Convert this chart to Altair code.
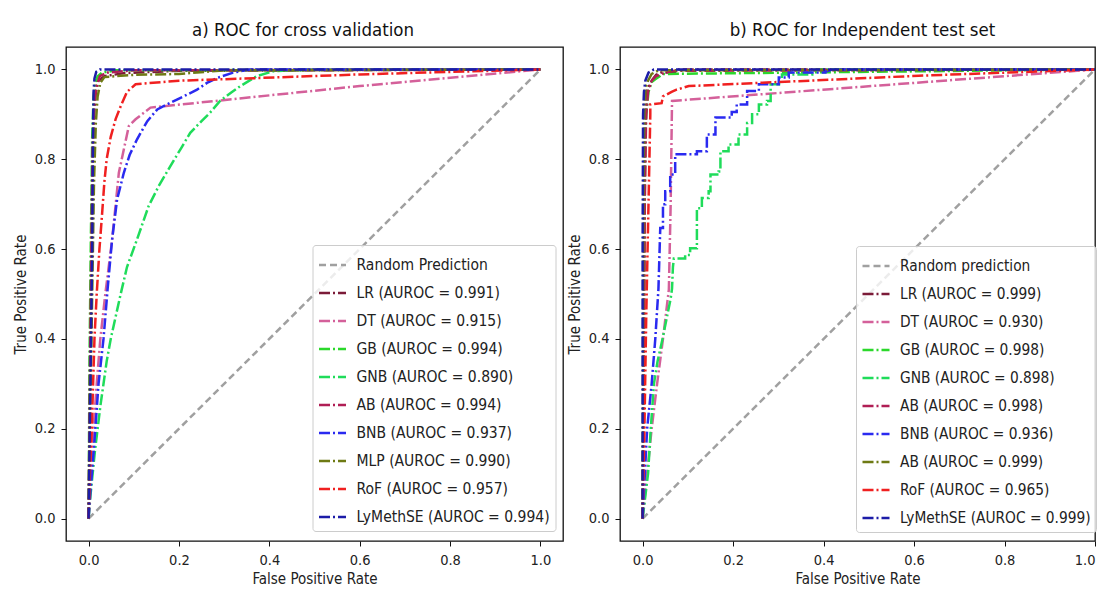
import altair as alt
import pandas as pd

TICKS = [0.0, 0.2, 0.4, 0.6, 0.8, 1.0]

# ---------------- a) cross validation ----------------
CV_LABELS = [
    "Random Prediction",
    "LR (AUROC = 0.991)",
    "DT (AUROC = 0.915)",
    "GB (AUROC = 0.994)",
    "GNB (AUROC = 0.890)",
    "AB (AUROC = 0.994)",
    "BNB (AUROC = 0.937)",
    "MLP (AUROC = 0.990)",
    "RoF (AUROC = 0.957)",
    "LyMethSE (AUROC = 0.994)",
]

cv_random_fpr = [0.0, 1.0]
cv_random_tpr = [0.0, 1.0]
cv_lr_fpr = [0, 0.003, 0.006, 0.009, 0.012, 0.016, 0.022, 0.035, 0.08, 0.2, 1.0]
cv_lr_tpr = [0, 0.3, 0.55, 0.78, 0.9, 0.95, 0.975, 0.985, 0.992, 0.997, 1.0]
cv_dt_fpr = [0, 0.005, 0.011, 0.018, 0.026, 0.037, 0.052, 0.067, 0.089, 0.104, 0.137, 0.6, 1.0]
cv_dt_tpr = [0, 0.1, 0.2, 0.3, 0.4, 0.5, 0.62, 0.77, 0.874, 0.889, 0.915, 0.963, 1.0]
cv_gb_fpr = [0, 0.002, 0.005, 0.008, 0.011, 0.015, 0.02, 0.03, 0.06, 1.0]
cv_gb_tpr = [0, 0.35, 0.62, 0.85, 0.94, 0.97, 0.985, 0.993, 0.998, 1.0]
cv_gnb_fpr = [0, 0.004, 0.009, 0.014, 0.02, 0.026, 0.033, 0.04, 0.049, 0.06, 0.071, 0.085,
              0.107, 0.133, 0.155, 0.181, 0.205, 0.225, 0.25, 0.269, 0.291, 0.315, 0.336,
              0.372, 0.409, 0.5, 1.0]
cv_gnb_tpr = [0, 0.05, 0.1, 0.15, 0.2, 0.25, 0.3, 0.35, 0.4, 0.45, 0.5, 0.56,
              0.621, 0.696, 0.74, 0.785, 0.825, 0.859, 0.885, 0.904, 0.93, 0.948, 0.963,
              0.985, 0.996, 1.0, 1.0]
cv_ab_fpr = [0, 0.003, 0.006, 0.009, 0.013, 0.018, 0.025, 0.04, 0.1, 1.0]
cv_ab_tpr = [0, 0.32, 0.6, 0.83, 0.93, 0.965, 0.985, 0.993, 0.998, 1.0]
cv_bnb_fpr = [0, 0.004, 0.009, 0.015, 0.022, 0.033, 0.042, 0.052, 0.063, 0.078, 0.091, 0.107,
              0.13, 0.152, 0.181, 0.21, 0.24, 0.262, 0.284, 0.32, 0.357, 1.0]
cv_bnb_tpr = [0, 0.06, 0.12, 0.2, 0.3, 0.4, 0.51, 0.621, 0.71, 0.77, 0.81, 0.844,
              0.885, 0.911, 0.926, 0.94, 0.955, 0.97, 0.981, 0.993, 1.0, 1.0]
cv_mlp_fpr = [0, 0.004, 0.008, 0.012, 0.016, 0.02, 0.026, 0.035, 0.1, 0.2, 0.3, 1.0]
cv_mlp_tpr = [0, 0.25, 0.5, 0.75, 0.88, 0.94, 0.97, 0.983, 0.988, 0.99, 0.998, 1.0]
cv_rof_fpr = [0, 0.003, 0.007, 0.01, 0.013, 0.018, 0.024, 0.03, 0.035, 0.04, 0.049, 0.06,
              0.071, 0.085, 0.104, 0.2, 0.38, 0.6, 1.0]
cv_rof_tpr = [0, 0.1, 0.2, 0.3, 0.4, 0.5, 0.6, 0.68, 0.75, 0.8, 0.85, 0.89,
              0.918, 0.95, 0.967, 0.975, 0.981, 0.989, 1.0]
cv_lym_fpr = [0, 0.002, 0.004, 0.006, 0.008, 0.009, 0.01, 0.011, 0.013, 0.017, 0.025, 1.0]
cv_lym_tpr = [0, 0.15, 0.3, 0.45, 0.6, 0.75, 0.88, 0.95, 0.98, 0.995, 1.0, 1.0]

# ---------------- b) independent test set ----------------
TEST_LABELS = [
    "Random prediction",
    "LR (AUROC = 0.999)",
    "DT (AUROC = 0.930)",
    "GB (AUROC = 0.998)",
    "GNB (AUROC = 0.898)",
    "AB (AUROC = 0.998)",
    "BNB (AUROC = 0.936)",
    "AB (AUROC = 0.999)",
    "RoF (AUROC = 0.965)",
    "LyMethSE (AUROC = 0.999)",
]

te_random_fpr = [0.0, 1.0]
te_random_tpr = [0.0, 1.0]
te_lr_fpr = [0, 0.002, 0.004, 0.006, 0.009, 0.015, 0.022, 0.03, 0.04, 0.075, 0.08, 1.0]
te_lr_tpr = [0, 0.3, 0.6, 0.85, 0.95, 0.965, 0.978, 0.988, 0.993, 0.993, 1.0, 1.0]
te_dt_fpr = [0, 0.01, 0.02, 0.032, 0.045, 0.058, 0.062, 0.065, 1.0]
te_dt_tpr = [0, 0.1, 0.2, 0.3, 0.4, 0.51, 0.7, 0.93, 1.0]
te_gb_fpr = [0, 0.002, 0.004, 0.006, 0.008, 0.013, 0.02, 0.028, 0.045, 1.0]
te_gb_tpr = [0, 0.35, 0.65, 0.87, 0.9, 0.95, 0.972, 0.978, 0.99, 1.0]
te_gnb_fpr = [0, 0.006, 0.012, 0.018, 0.025, 0.033, 0.044, 0.053, 0.062, 0.065, 0.067, 0.069,
              0.094, 0.094, 0.105, 0.105, 0.12, 0.12, 0.131, 0.131, 0.146, 0.146, 0.15, 0.15,
              0.168, 0.168, 0.172, 0.172, 0.19, 0.19, 0.212, 0.212, 0.231, 0.231, 0.242, 0.242,
              0.257, 0.257, 0.275, 0.275, 0.283, 0.283, 0.308, 0.308, 0.375, 0.375, 0.4, 1.0]
te_gnb_tpr = [0, 0.05, 0.1, 0.2, 0.3, 0.35, 0.4, 0.445, 0.49, 0.512, 0.56, 0.579,
              0.579, 0.587, 0.587, 0.602, 0.602, 0.691, 0.691, 0.714, 0.714, 0.729, 0.729, 0.766,
              0.766, 0.773, 0.773, 0.818, 0.818, 0.833, 0.833, 0.855, 0.855, 0.881, 0.881, 0.9,
              0.9, 0.922, 0.922, 0.93, 0.93, 0.967, 0.967, 0.989, 0.989, 0.998, 1.0, 1.0]
te_ab_fpr = [0, 0.003, 0.005, 0.008, 0.012, 0.02, 0.03, 0.05, 0.07, 1.0]
te_ab_tpr = [0, 0.4, 0.75, 0.9, 0.95, 0.975, 0.985, 0.993, 0.997, 1.0]
te_bnb_fpr = [0, 0.005, 0.01, 0.02, 0.028, 0.035, 0.037, 0.039, 0.045, 0.045, 0.05, 0.05,
              0.061, 0.061, 0.072, 0.072, 0.12, 0.12, 0.142, 0.142, 0.161, 0.161, 0.197, 0.197,
              0.208, 0.208, 0.231, 0.231, 0.257, 0.257, 0.301, 0.301, 0.323, 0.323, 0.404, 0.404,
              0.42, 1.0]
te_bnb_tpr = [0, 0.1, 0.2, 0.3, 0.4, 0.512, 0.58, 0.647, 0.647, 0.7, 0.7, 0.729,
              0.729, 0.766, 0.766, 0.811, 0.811, 0.818, 0.818, 0.855, 0.855, 0.893, 0.893, 0.905,
              0.905, 0.922, 0.922, 0.952, 0.952, 0.967, 0.967, 0.982, 0.982, 0.993, 0.993, 0.995,
              1.0, 1.0]
te_ab2_fpr = [0, 0.001, 0.002, 0.004, 0.007, 0.012, 0.02, 0.035, 1.0]
te_ab2_tpr = [0, 0.4, 0.75, 0.92, 0.96, 0.975, 0.99, 0.998, 1.0]
te_rof_fpr = [0, 0.004, 0.008, 0.012, 0.015, 0.017, 0.017, 0.042, 0.045, 0.064, 0.075, 0.102,
              0.3, 0.61, 1.0]
te_rof_tpr = [0, 0.2, 0.45, 0.65, 0.8, 0.9, 0.922, 0.925, 0.94, 0.95, 0.955, 0.963,
              0.972, 0.986, 1.0]
te_lym_fpr = [0, 0.0, 0.001, 0.003, 0.006, 0.013, 0.025, 1.0]
te_lym_tpr = [0, 0.6, 0.9, 0.95, 0.975, 0.993, 1.0, 1.0]

COLORS = ["#a0a0a0", "#7b1b38", "#d4609a", "#2bd82b", "#1fdc5a",
          "#b01e55", "#2a2af0", "#6e7a14", "#f02020", "#1c1ca8"]
DASHES = [[7, 4]] + [[11, 3, 2, 3]] * 9

FONT = "DejaVu Sans Condensed, Liberation Sans Narrow, DejaVu Sans, sans-serif"


def build(labels, series):
    rows = []
    for label, (fpr, tpr) in zip(labels, series):
        for i, (a, b) in enumerate(zip(fpr, tpr)):
            rows.append({"model": label, "fpr": a, "tpr": b, "idx": i})
    return pd.DataFrame(rows)


cv_df = build(CV_LABELS, [
    (cv_random_fpr, cv_random_tpr), (cv_lr_fpr, cv_lr_tpr), (cv_dt_fpr, cv_dt_tpr),
    (cv_gb_fpr, cv_gb_tpr), (cv_gnb_fpr, cv_gnb_tpr), (cv_ab_fpr, cv_ab_tpr),
    (cv_bnb_fpr, cv_bnb_tpr), (cv_mlp_fpr, cv_mlp_tpr), (cv_rof_fpr, cv_rof_tpr),
    (cv_lym_fpr, cv_lym_tpr)])

te_df = build(TEST_LABELS, [
    (te_random_fpr, te_random_tpr), (te_lr_fpr, te_lr_tpr), (te_dt_fpr, te_dt_tpr),
    (te_gb_fpr, te_gb_tpr), (te_gnb_fpr, te_gnb_tpr), (te_ab_fpr, te_ab_tpr),
    (te_bnb_fpr, te_bnb_tpr), (te_ab2_fpr, te_ab2_tpr), (te_rof_fpr, te_rof_tpr),
    (te_lym_fpr, te_lym_tpr)])


def panel(df, labels, title, dx, lx, ly, width, xmax, label_size, flush):
    legend = alt.Legend(
        title=None, orient="none", legendX=lx, legendY=ly, direction="vertical",
        fillColor="rgba(255,255,255,0.8)", strokeColor="#cccccc", cornerRadius=3,
        padding=5, symbolType="stroke", symbolSize=729, symbolStrokeWidth=2.5,
        labelFont=FONT, labelFontSize=label_size, labelColor="#222222", labelOffset=9,
        rowPadding=4, labelLimit=320)
    return alt.Chart(df).mark_line(strokeWidth=2.5, clip=True).encode(
        x=alt.X("fpr:Q", title="False Positive Rate",
                scale=alt.Scale(domain=[-0.05, xmax], nice=False, zero=False),
                axis=alt.Axis(values=TICKS, format=".1f", labelPadding=7, titlePadding=5,
                              labelFlush=flush)),
        y=alt.Y("tpr:Q", title="True Positive Rate",
                scale=alt.Scale(domain=[-0.05, 1.05], nice=False, zero=False),
                axis=alt.Axis(values=TICKS, format=".1f", labelPadding=6, titlePadding=6)),
        color=alt.Color("model:N", scale=alt.Scale(domain=labels, range=COLORS), legend=legend),
        strokeDash=alt.StrokeDash("model:N", scale=alt.Scale(domain=labels, range=DASHES),
                                  legend=legend),
        order=alt.Order("idx:Q"),
    ).properties(
        width=width, height=494,
        title=alt.TitleParams(text=title, font=FONT, fontSize=18.5, fontWeight="normal",
                              color="#111111", anchor="middle", dx=dx, offset=-7,
                              baseline="alphabetic"),
    )


left = panel(cv_df, CV_LABELS, "a)  ROC for cross validation", -11.5, 246.5, 198,
             497, 1.05, 15.5, False)
right = panel(te_df, TEST_LABELS, "b) ROC for Independent test set", 5, 236, 199,
              475, 1.0, 15.3, True)

chart = alt.hconcat(left, right, spacing=2).resolve_scale(
    color="independent", strokeDash="independent"
).resolve_legend(
    color="independent", strokeDash="independent"
).properties(
    padding={"left": 4, "top": 11, "right": 0, "bottom": 0},
    background="white",
).configure_view(
    stroke="#111111", strokeWidth=1.3
).configure_axis(
    grid=False, domain=False, ticks=True, tickSize=5, tickColor="#111111", tickWidth=1,
    labelFont=FONT, labelFontSize=14.5, labelColor="#222222",
    titleFont=FONT, titleFontSize=15, titleFontWeight="normal", titleColor="#222222",
)

chart.save("out.html", embed_options={"renderer": "svg", "actions": False})
